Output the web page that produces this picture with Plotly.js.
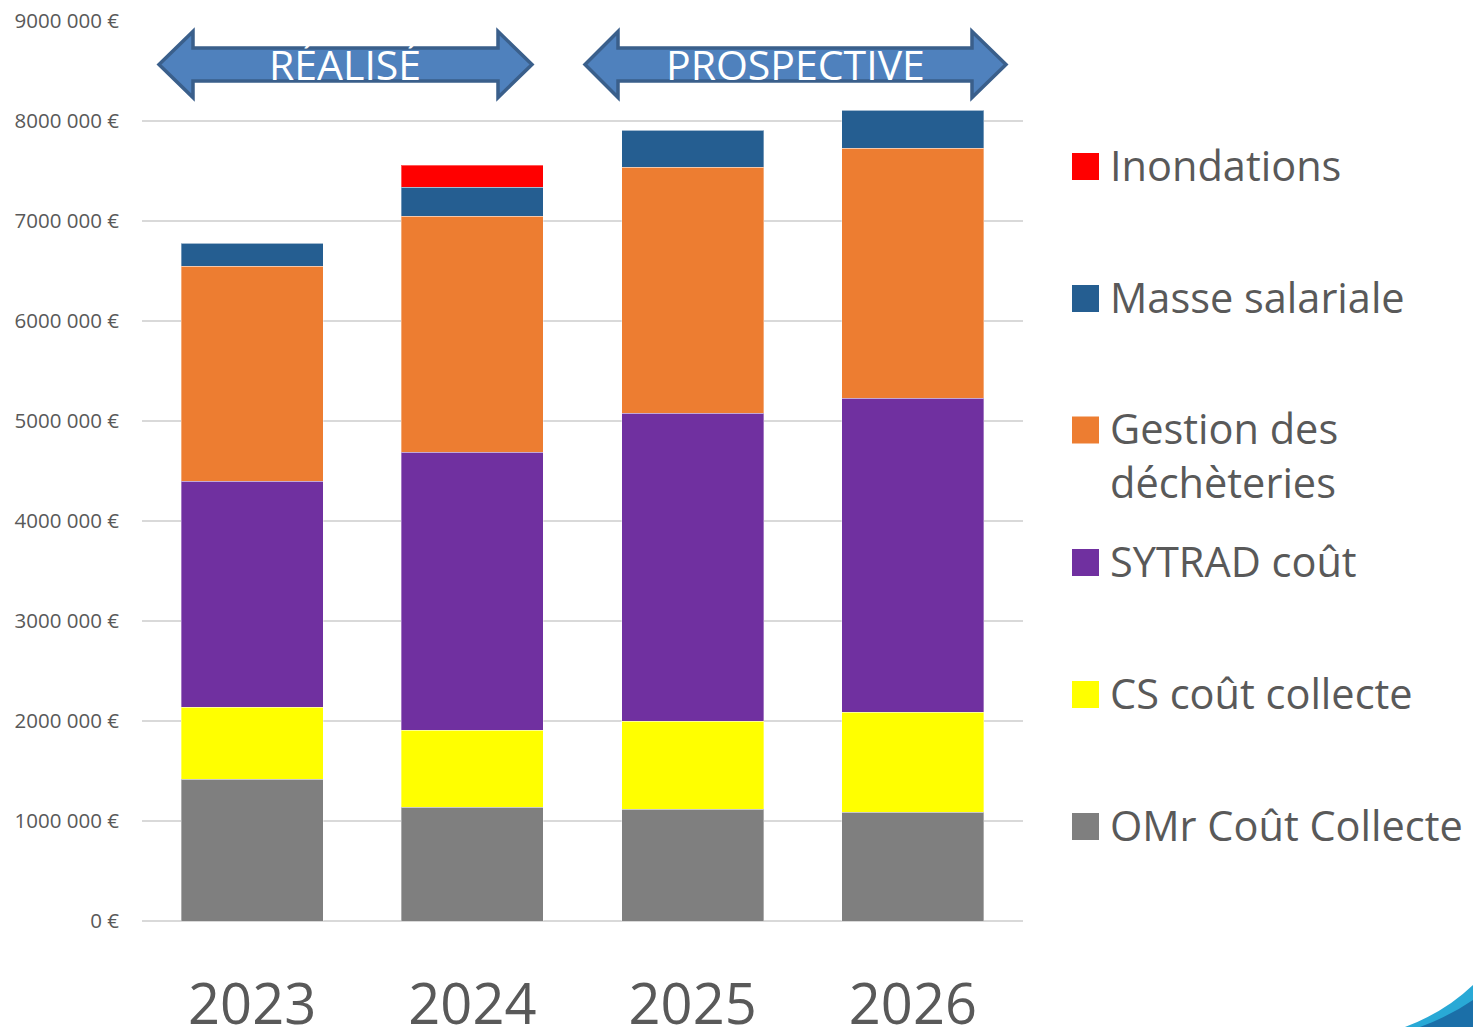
<!DOCTYPE html>
<html>
<head>
<meta charset="utf-8">
<script src="https://cdn.plot.ly/plotly-3.0.1.min.js"></script>
<style>
  html, body { margin: 0; padding: 0; background: #ffffff; }
  #chart { width: 1473px; height: 1027px; }
</style>
</head>
<body>
<div id="chart"></div>
<script>
// ---- Data ----
var years = ['2023', '2024', '2025', '2026'];

var omrCoutCollecte = [1420000, 1140000, 1120000, 1090000];
var csCoutCollecte  = [720000, 770000, 880000, 1000000];
var sytradCout      = [2260000, 2780000, 3080000, 3140000];
var gestionDecheteries = [2150000, 2360000, 2460000, 2500000];
var masseSalariale  = [230000, 290000, 370000, 380000];
var inondations     = [0, 220000, 0, 0];

var seriesNames = ['OMr Coût Collecte', 'CS coût collecte', 'SYTRAD coût',
                   'Gestion des déchèteries', 'Masse salariale', 'Inondations'];
var legendLabels = ['OMr Coût Collecte', 'CS coût collecte', 'SYTRAD coût',
                    'Gestion des<br>déchèteries', 'Masse salariale', 'Inondations'];
var seriesColors = ['#7F7F7F', '#FFFF00', '#7030A0', '#ED7D31', '#255E91', '#FF0000'];
var seriesValues = [omrCoutCollecte, csCoutCollecte, sytradCout,
                    gestionDecheteries, masseSalariale, inondations];

var yTickVals = [0, 1000000, 2000000, 3000000, 4000000, 5000000, 6000000, 7000000, 8000000, 9000000];
var yTickText = ['0 €', '1000 000 €', '2000 000 €', '3000 000 €', '4000 000 €',
                 '5000 000 €', '6000 000 €', '7000 000 €', '8000 000 €', '9000 000 €'];

var periodLabels = ['RÉALISÉ', 'PROSPECTIVE'];

// ---- Geometry helpers (pixel -> paper) ----
var W = 1473, H = 1027;
var M = {l: 142, r: 450, t: 21, b: 106};
var plotW = W - M.l - M.r, plotH = H - M.t - M.b;
function px(x) { return (x - M.l) / plotW; }
function py(y) { return (H - M.b - y) / plotH; }

// ---- Traces ----
var traces = seriesNames.map(function (name, i) {
  return {
    type: 'bar',
    name: name,
    x: years,
    y: seriesValues[i],
    marker: { color: seriesColors[i], line: { color: 'rgba(255,255,255,0.35)', width: 1 } },
    showlegend: false,
    hoverinfo: 'x+y+name'
  };
});

// ---- Shapes: period arrows, legend swatches, corner swoosh ----
function arrowPath(L, hl, hr, R, yc) {
  var hh = 33, sh = 16.5;
  var pts = [[L, yc], [hl, yc - hh], [hl, yc - sh], [hr, yc - sh], [hr, yc - hh], [R, yc],
             [hr, yc + hh], [hr, yc + sh], [hl, yc + sh], [hl, yc + hh]];
  return 'M' + pts.map(function (p) { return px(p[0]).toFixed(5) + ',' + py(p[1]).toFixed(5); }).join(' L') + ' Z';
}
var arrows = [
  {L: 159, hl: 193, hr: 498, R: 532, yc: 64.5, tx: 345},
  {L: 585, hl: 618, hr: 972, R: 1006, yc: 64.5, tx: 795}
];

var shapes = [];
var annotations = [];
arrows.forEach(function (a, i) {
  shapes.push({
    type: 'path', xref: 'paper', yref: 'paper',
    path: arrowPath(a.L, a.hl, a.hr, a.R, a.yc),
    fillcolor: '#4F81BD', line: { color: '#3A5F8B', width: 3.5 }, layer: 'above'
  });
  annotations.push({
    xref: 'paper', yref: 'paper', x: px(a.tx), y: py(63.5), xanchor: 'center', yanchor: 'middle',
    text: periodLabels[i], showarrow: false,
    font: { family: 'Open Sans, sans-serif', size: 41, color: '#FFFFFF' }
  });
});

// Legend (top to bottom: reversed series order)
var legendCenters = [825, 693, 561, 428, 297, 165];
seriesNames.forEach(function (name, i) {
  var yc = legendCenters[i];
  var sc = [826.5, 694.5, 562.5, 430, 298.5, 166.5][i];
  shapes.push({
    type: 'rect', xref: 'paper', yref: 'paper',
    x0: px(1072), x1: px(1099), y0: py(sc + 13.5), y1: py(sc - 13.5),
    fillcolor: seriesColors[i], line: { width: 0 }
  });
  var multi = legendLabels[i].indexOf('<br>') >= 0;
  annotations.push({
    xref: 'paper', yref: 'paper', x: px(1108), y: py(multi ? yc - 30 : yc),
    xanchor: 'left', yanchor: multi ? 'top' : 'middle', align: 'left',
    text: legendLabels[i], showarrow: false,
    font: { family: 'Open Sans, sans-serif', size: 41.5, color: '#595959' }
  });
});

// corner swoosh decoration
shapes.push({
  type: 'path', xref: 'paper', yref: 'paper',
  path: 'M' + px(1405) + ',' + py(1027) + ' Q' + px(1445) + ',' + py(1012) + ' ' + px(1473) + ',' + py(985) +
        ' L' + px(1473) + ',' + py(1027) + ' Z',
  fillcolor: '#29A9D6', line: { width: 0 }
});
shapes.push({
  type: 'path', xref: 'paper', yref: 'paper',
  path: 'M' + px(1420) + ',' + py(1027) + ' Q' + px(1450) + ',' + py(1016) + ' ' + px(1473) + ',' + py(1000) +
        ' L' + px(1473) + ',' + py(1027) + ' Z',
  fillcolor: '#1B6FA8', line: { width: 0 }
});

var layout = {
  width: W, height: H,
  margin: M,
  paper_bgcolor: '#FFFFFF',
  plot_bgcolor: '#FFFFFF',
  barmode: 'stack',
  bargap: 0.355,
  showlegend: false,
  font: { family: 'Open Sans, sans-serif', color: '#595959' },
  xaxis: {
    type: 'category',
    range: [-0.5, 3.5],
    showgrid: false, zeroline: false, showline: false,
    ticks: '',
    tickfont: { family: 'Open Sans, sans-serif', size: 56, color: '#595959' },
    ticklabelstandoff: 46,
    fixedrange: true
  },
  yaxis: {
    range: [0, 9000000],
    tickvals: yTickVals,
    ticktext: yTickText,
    tickfont: { family: 'Open Sans, sans-serif', size: 20.5, color: '#595959' },
    showgrid: true, gridcolor: '#D9D9D9', gridwidth: 1.5,
    zeroline: true, zerolinecolor: '#D9D9D9', zerolinewidth: 1.5,
    showline: false, ticks: '',
    ticklabelstandoff: 22,
    fixedrange: true
  },
  shapes: shapes,
  annotations: annotations
};

Plotly.newPlot('chart', traces, layout, { displayModeBar: false, staticPlot: true });
</script>
</body>
</html>
